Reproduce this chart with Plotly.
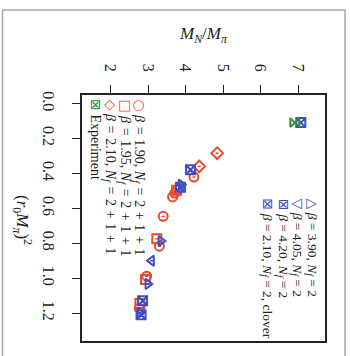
import plotly.graph_objects as go

# values: horizontal = M_N/M_pi, vertical = (r0 M_pi)^2 (chart shown rotated)
r190_mn = [4.22, 3.71, 3.65, 3.40, 3.30, 2.96, 2.76]
r190_r2 = [0.421, 0.513, 0.535, 0.646, 0.817, 0.989, 1.173]
r195_mn = [3.76, 3.23, 2.93, 2.78]
r195_r2 = [0.497, 0.775, 1.008, 1.145]
r210_mn = [4.84, 4.36, 3.80]
r210_r2 = [0.284, 0.360, 0.490]
b390_mn = [3.88, 3.34, 2.99, 2.78]
b390_r2 = [0.465, 0.787, 1.034, 1.198]
b405_mn = [3.09]
b405_r2 = [0.900]
b420_mn = [3.86, 2.81]
b420_r2 = [0.480, 1.210]
clov_mn = [4.13, 2.85, 7.07]
clov_r2 = [0.379, 1.130, 0.109]
exp_mn = [6.91]
exp_r2 = [0.109]

x_ticks = [2, 3, 4, 5, 6, 7]
y_ticks = [0.0, 0.2, 0.4, 0.6, 0.8, 1.0, 1.2]
y_ticklabels = ["0.0", "0.2", "0.4", "0.6", "0.8", "1.0", "1.2"]

RED = "#ea4a2c"
BLUE = "#3c4fc4"
GREEN = "#2f8f3c"

fig = go.Figure()

def add(xs, ys, sym, color, err=True):
    fig.add_trace(go.Scatter(
        x=xs, y=ys, mode="markers",
        marker=dict(symbol=sym, size=9, color=color, line=dict(color=color, width=2)),
        error_x=dict(type="constant", value=0.04, color=color, thickness=1.5, width=0) if err else None,
        showlegend=False, hoverinfo="skip"))

add(r190_mn, r190_r2, "circle-open", RED)
add(r195_mn, r195_r2, "square-open", RED)
add(r210_mn, r210_r2, "diamond-open", RED)
add(b390_mn, b390_r2, "triangle-right-open", BLUE)
add(b405_mn, b405_r2, "triangle-left-open", BLUE)
add(b420_mn, b420_r2, "square-x-open", BLUE)
add(clov_mn, clov_r2, "square-x-open", BLUE)
add(exp_mn, exp_r2, "bowtie-open", GREEN, err=False)

FONT = "Liberation Serif"
SP = "&#8196;"   # wider space, like TeX operator spacing
SP2 = "&#8197;"

def nf(rest, sp):
    return f"<i>N<sub>f</sub></i>{sp}={sp}{rest}"

legend_left = [
    ("○", RED, f"<i>β</i>{SP}={SP}1.90, " + nf(f"2{SP}+{SP}1{SP}+{SP}1", SP), 2.73),
    ("□", RED, f"<i>β</i>{SP}={SP}1.95, " + nf(f"2{SP}+{SP}1{SP}+{SP}1", SP), 2.37),
    ("◇", RED, f"<i>β</i>{SP}={SP}2.10, " + nf(f"2{SP}+{SP}1{SP}+{SP}1", SP), 1.99),
    ("⊠", GREEN, "Experiment", 1.60),
]
legend_right = [
    ("△", BLUE, f"<i>β</i>{SP2}={SP2}3.90, " + nf("2", SP2), 7.38),
    ("▽", BLUE, f"<i>β</i>{SP2}={SP2}4.05, " + nf("2", SP2), 6.98),
    ("⊠", BLUE, f"<i>β</i>{SP2}={SP2}4.20, " + nf("2", SP2), 6.58),
    ("⊠", BLUE, f"<i>β</i>{SP2}={SP2}2.10, " + nf("2", SP2) + ", clover", 6.18),
]

def sym_span(sym, col):
    return f"<span style='color:{col};font-size:14px;font-family:DejaVu Sans'>{sym}</span>"

for sym, col, txt, xv in legend_left:
    fig.add_annotation(x=xv, y=-0.035, xref="x", yref="y", showarrow=False,
                       textangle=90, xanchor="center", yanchor="top",
                       text=f"{sym_span(sym, col)} {txt}",
                       font=dict(family=FONT, size=14, color="#222"))
for sym, col, txt, xv in legend_right:
    fig.add_annotation(x=xv, y=0.535, xref="x", yref="y", showarrow=False,
                       textangle=90, xanchor="center", yanchor="top",
                       text=f"{sym_span(sym, col)} {txt}",
                       font=dict(family=FONT, size=13.5, color="#222"))

# axis titles
fig.add_annotation(xref="paper", yref="paper", x=0.5, y=1.245, showarrow=False,
                   text="<i>M<sub>N</sub></i>/<i>M</i><sub><i>π</i></sub>",
                   font=dict(family=FONT, size=17, color="#222"), xanchor="center", yanchor="middle")
fig.add_annotation(xref="paper", yref="paper", x=-0.245, y=0.49, showarrow=False, textangle=90,
                   text="(<i>r</i><sub>0</sub><i>M</i><sub><i>π</i></sub>)<sup>2</sup>",
                   font=dict(family=FONT, size=17, color="#222"), xanchor="center", yanchor="middle")

# outer gray frame
fig.add_shape(type="rect", xref="paper", yref="paper",
              x0=(1.5 - 82) / 246, x1=(345 - 82) / 243,
              y0=(341 - 360) / 246, y1=(341 - 10) / 246,
              line=dict(color="#a8a8a8", width=1.5), fillcolor="rgba(0,0,0,0)", layer="below")

fig.update_layout(
    width=350, height=356,
    margin=dict(l=82, r=25, t=95, b=15),
    paper_bgcolor="white", plot_bgcolor="white",
    font=dict(family=FONT, size=16, color="#222"),
    xaxis=dict(range=[1.235, 7.715], side="top", tickvals=x_ticks, ticktext=[str(v) for v in x_ticks],
               tickangle=90, ticks="outside", ticklen=8, tickcolor="#222", showgrid=False,
               zeroline=False, showline=True, linecolor="#222", linewidth=1.5, mirror=True,
               tickfont=dict(family=FONT, size=16), ticklabelstandoff=8),
    yaxis=dict(range=[1.36, -0.049], tickvals=y_ticks, ticktext=y_ticklabels,
               tickangle=90, ticks="outside", ticklen=8, tickcolor="#222", showgrid=False,
               zeroline=False, showline=True, linecolor="#222", linewidth=1.5, mirror=True,
               tickfont=dict(family=FONT, size=16), ticklabelstandoff=10),
)

fig.write_html("out.html", config={"displayModeBar": False},
               post_script="document.body.style.margin='0';document.body.style.overflow='hidden';")
